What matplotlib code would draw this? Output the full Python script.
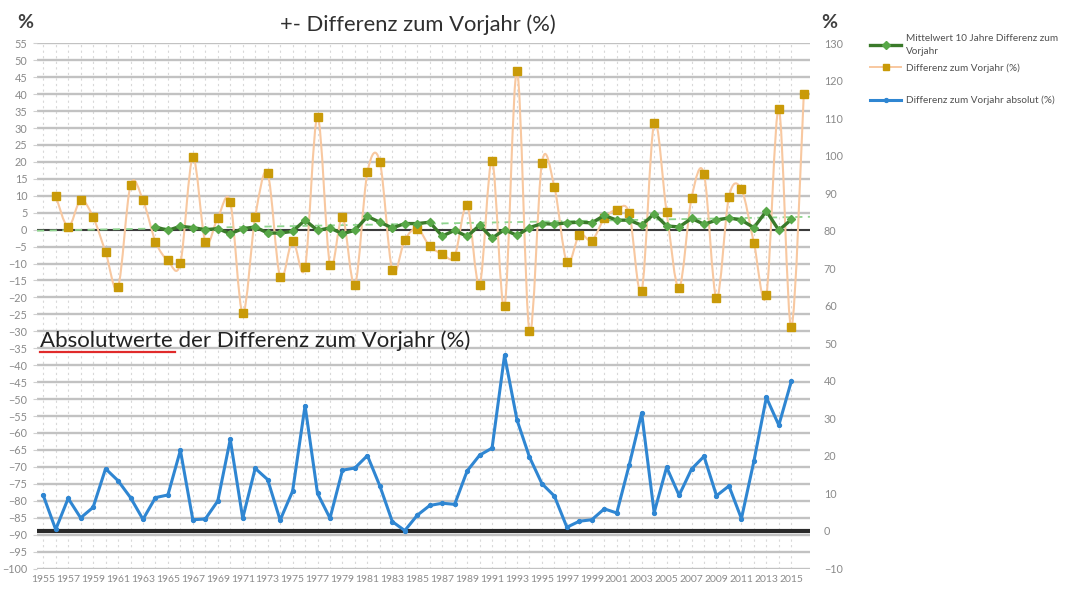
import numpy as np
import matplotlib
matplotlib.use("Agg")
import matplotlib.pyplot as plt
from matplotlib.path import Path
from matplotlib.patches import PathPatch
from matplotlib.lines import Line2D

plt.rcParams['font.family'] = ['Lato', 'DejaVu Sans']

# Differenz zum Vorjahr (%), linke Achse
jahre_diff = list(range(1956, 2017))
diff_vorjahr = [10.0, 0.8, 8.7, 3.7, -6.6, -17.0, 13.1, 8.7, -3.5, -9.1,
                -9.9, 21.3, -3.5, 3.5, 8.2, -24.7, 3.7, 16.6, -14.0, -3.2,
                -11.1, 33.3, -10.3, 3.7, -16.3, 16.9, 20.0, -12.0, -3.0, 0.3,
                -4.9, -7.1, -7.8, 7.2, -16.3, 20.3, -22.6, 46.8, -30.0, 19.8,
                12.6, -9.6, -1.5, -3.2, 3.3, 5.9, 4.9, -18.0, 31.4, 5.2,
                -17.2, 9.4, 16.4, -20.2, 9.7, 11.9, -3.9, -19.2, 35.5, -28.8,
                39.9]

# Mittelwert 10 Jahre Differenz zum Vorjahr
jahre_mittel = list(range(1964, 2016))
mittel_10 = [0.8, -0.2, 1.0, 0.6, 0.0, 0.3, -1.2, 0.3, 0.8, -1.0,
             -1.0, -0.5, 2.8, -0.2, 0.5, -1.2, -0.2, 3.9, 2.2, 0.5,
             1.8, 1.8, 2.2, -1.9, -0.2, -2.0, 1.3, -2.5, 0.0, -1.7,
             0.6, 1.8, 1.6, 2.0, 2.2, 2.0, 4.2, 2.8, 2.8, 1.3,
             4.7, 1.1, 0.8, 3.3, 1.6, 2.8, 3.5, 2.8, 0.6, 5.5,
             -0.2, 3.0]

# Trendlinie (gestrichelt)
trend_jahre = [1954.5, 2016.5]
trend_werte = [-0.3, 3.8]

# Differenz zum Vorjahr absolut (%), rechte Achse
jahre_abs = list(range(1955, 2016))
diff_absolut = [9.5, 0.4, 8.7, 3.5, 6.3, 16.6, 13.4, 8.9, 3.1, 8.9,
                9.6, 21.5, 3.0, 3.2, 8.0, 24.4, 3.4, 16.7, 13.7, 2.9,
                10.6, 33.4, 10.0, 3.4, 16.2, 16.8, 20.1, 12.0, 2.5, 0.1,
                4.2, 6.8, 7.4, 7.1, 16.0, 20.2, 22.1, 46.8, 29.6, 19.7,
                12.6, 9.3, 1.0, 2.6, 3.0, 5.9, 4.8, 17.6, 31.4, 4.9,
                17.0, 9.5, 16.5, 19.9, 9.4, 12.0, 3.3, 18.6, 35.6, 28.2,
                39.9]

jahr_labels = list(range(1955, 2016, 2))

c_orange_line = '#f8c8a0'
c_orange_mark = '#c99a08'
c_green = '#3a7a2a'
c_green_mark = '#58a848'
c_blue = '#2f86d2'
c_grid = '#c2c2c2'
c_tick = '#8a8a8a'


def smooth_path(xs, ys):
    # geglaettete Linie wie in Excel (Bezier durch die Punkte)
    pts = np.column_stack([xs, ys]).astype(float)
    verts = [pts[0]]
    codes = [Path.MOVETO]
    n = len(pts)
    for i in range(n - 1):
        p0 = pts[i - 1] if i > 0 else pts[i]
        p1 = pts[i]
        p2 = pts[i + 1]
        p3 = pts[i + 2] if i + 2 < n else pts[i + 1]
        verts += [p1 + (p2 - p0) / 6, p2 - (p3 - p1) / 6, p2]
        codes += [Path.CURVE4] * 3
    return Path(verts, codes)


fig = plt.figure(figsize=(10.76, 5.89), dpi=100)
ax = fig.add_axes([37 / 1076, 1 - 568.5 / 589, 773 / 1076, 525.2 / 589])
ax.set_xlim(1954.5, 2016.5)
ax.set_ylim(-100, 55)

ax.set_yticks(range(-100, 56, 5))
ax.set_xticks(jahr_labels)
ax.set_xticks(jahre_abs, minor=True)
ax.grid(which='major', axis='y', color=c_grid, lw=1.7, zorder=0)
ax.grid(which='both', axis='x', color='#d8d8d8', lw=0.8, ls=(0, (2, 3)), zorder=0)
ax.set_axisbelow(True)
for s in ax.spines.values():
    s.set_visible(False)
ax.tick_params(axis='y', length=3, color='#d0d0d0', labelcolor=c_tick, labelsize=7.8, pad=4)
ax.tick_params(axis='x', which='both', length=0, labelcolor=c_tick, labelsize=7.5, pad=5)

# Nulllinie links
ax.axhline(0, color='#202020', lw=1.2, zorder=2)

# Trend
ax.plot(trend_jahre, trend_werte, color='#8fd48f', lw=1.3, ls=(0, (4, 3)), zorder=2)

# Differenz zum Vorjahr
ax.add_patch(PathPatch(smooth_path(jahre_diff, diff_vorjahr), facecolor='none',
                       edgecolor=c_orange_line, lw=1.5, zorder=3))
ax.plot(jahre_diff, diff_vorjahr, ls='none', marker='s', ms=5.2,
        mfc=c_orange_mark, mec=c_orange_mark, zorder=4)

# Mittelwert
ax.plot(jahre_mittel, mittel_10, color=c_green, lw=2.4, marker='D', ms=4.2,
        mfc=c_green_mark, mec=c_green_mark, zorder=5)

ax2 = ax.twinx()
ax2.set_ylim(-10, 130)
ax2.set_yticks(range(-10, 131, 10))
for s in ax2.spines.values():
    s.set_visible(False)
ax2.tick_params(axis='y', length=0, labelcolor=c_tick, labelsize=7.8, pad=10)
ax2.axhline(0, color='#2a2a2a', lw=3, zorder=2)
ax2.plot(jahre_abs, diff_absolut, color=c_blue, lw=2.2, marker='o', ms=2.8,
         mfc=c_blue, mec=c_blue, zorder=3)

# Texte
fig.text(25 / 1076, 1 - 22 / 589, '%', ha='center', va='center', fontsize=14,
         fontweight='bold', color='#404040')
fig.text(829 / 1076, 1 - 22 / 589, '%', ha='center', va='center', fontsize=14,
         fontweight='bold', color='#404040')
fig.text(418 / 1076, 1 - 25 / 589, '+- Differenz zum Vorjahr (%)', ha='center',
         va='center', fontsize=15.8, color='#303030')
fig.text(40 / 1076, 1 - 341 / 589, 'Absolutwerte der Differenz zum Vorjahr (%)',
         ha='left', va='center', fontsize=16, color='#222222')
fig.add_artist(Line2D([40 / 1076, 175 / 1076], [1 - 352 / 589, 1 - 352 / 589],
                      color='#e02a2a', lw=1.6))

# Legende
handles = [
    Line2D([], [], color=c_green, lw=2.4, marker='D', ms=4.2, mfc=c_green_mark, mec=c_green_mark),
    Line2D([], [], color=c_orange_line, lw=1.4, marker='s', ms=5, mfc=c_orange_mark, mec=c_orange_mark),
    Line2D([], [], color='none'),
    Line2D([], [], color=c_blue, lw=2.2, marker='o', ms=2.8, mfc=c_blue, mec=c_blue),
]
labels = ['Mittelwert 10 Jahre Differenz zum\nVorjahr', 'Differenz zum Vorjahr (%)', '',
          'Differenz zum Vorjahr absolut (%)']
leg = fig.legend(handles, labels, loc='upper left', bbox_to_anchor=(866 / 1076, 1 - 30 / 589),
                 frameon=False, fontsize=7.2, handlelength=3.1, handletextpad=0.5,
                 labelspacing=0.7, borderaxespad=0)
for t in leg.get_texts():
    t.set_color('#505050')
    t.set_linespacing(1.6)

fig.savefig('out.png', dpi=100)
